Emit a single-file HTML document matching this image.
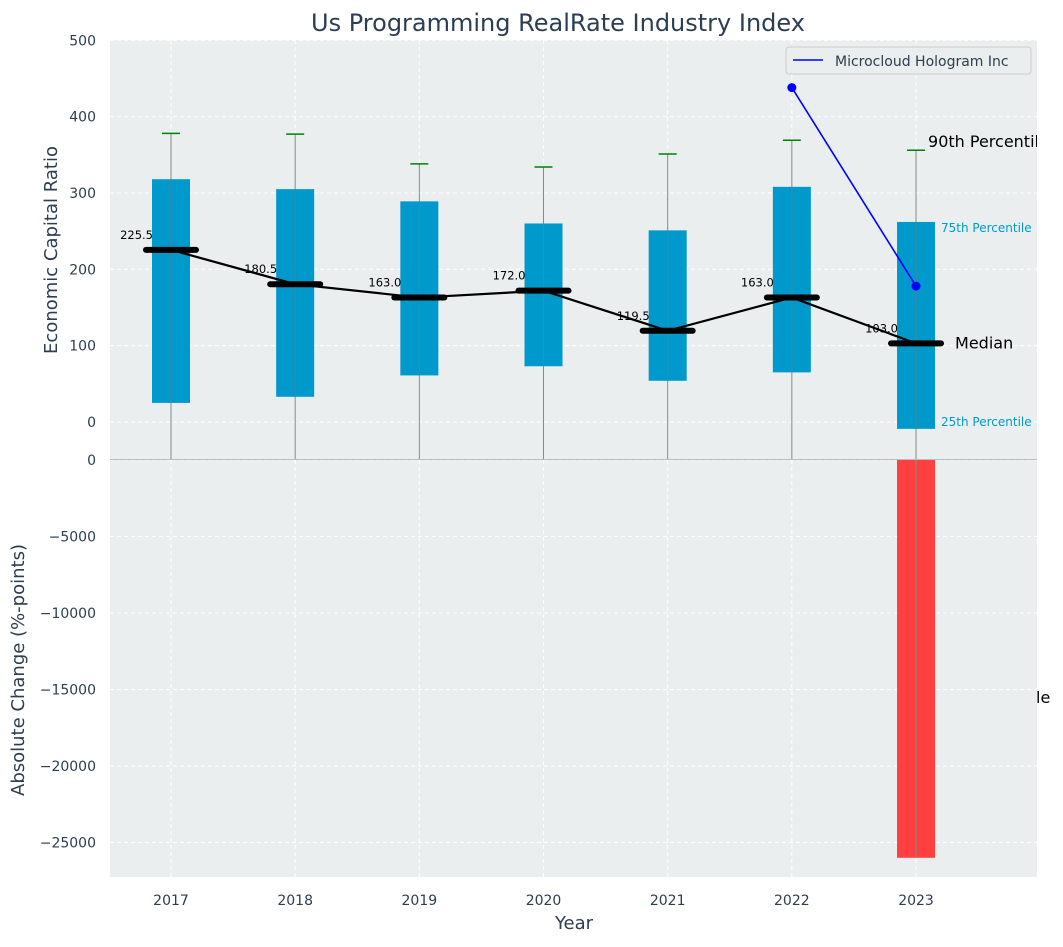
<!DOCTYPE html>
<html><head><meta charset="utf-8"><style>
body{margin:0;background:#fff;font-family:"Liberation Sans","DejaVu Sans",sans-serif}
svg text{font-family:"DejaVu Sans","Liberation Sans",sans-serif}
</style></head><body>
<svg id="c" width="1063" height="942" xmlns="http://www.w3.org/2000/svg"></svg>
<script>
const years=[2017,2018,2019,2020,2021,2022,2023];
const q25=[25,33,61,73,54,65,-9];
const q75=[318,305,289,260,251,308,262];
const medians=[225.5,180.5,163.0,172.0,119.5,163.0,103.0];
const p90=[378,377,338,334,351,369,356];
const companyYears=[2022,2023];
const companyVals=[438,178];
const changeVals=[0,0,0,0,0,0,-26000];
const topTicks=[0,100,200,300,400,500];
const botTicks=[0,-5000,-10000,-15000,-20000,-25000];

const NS="http://www.w3.org/2000/svg";
const svg=document.getElementById('c');
function el(t,a,p){const e=document.createElementNS(NS,t);for(const k in a)e.setAttribute(k,a[k]);(p||svg).appendChild(e);return e;}
const L=110,R=1037,T1=40,B1=459,T2=460,B2=877;
const x=y=>171+(y-2017)*124.17;
const y1=v=>422-v*0.7635;
const y2=v=>460+(-v)*0.01530;

let r=el('rect',{x:L,y:T1,width:R-L,height:B1-T1,fill:'#eaeeef'});

r=el('rect',{x:L,y:T2,width:R-L,height:B2-T2,fill:'#eaeeef'});


years.forEach(yr=>{
  el('line',{x1:x(yr),x2:x(yr),y1:T1,y2:B2,stroke:'#fff','stroke-dasharray':'4,3','stroke-width':1});
  const t=el('text',{x:x(yr),y:905,'text-anchor':'middle','font-size':14,fill:'#2c3e50'});t.textContent=yr;
  
});
topTicks.forEach(v=>{
  el('line',{x1:L,x2:R,y1:y1(v),y2:y1(v),stroke:'#fff','stroke-dasharray':'4,3'});
  const t=el('text',{x:96,y:y1(v)+5,'text-anchor':'end','font-size':14,fill:'#2c3e50'});t.textContent=v;
  
});
botTicks.forEach(v=>{
  el('line',{x1:L,x2:R,y1:y2(v),y2:y2(v),stroke:'#fff','stroke-dasharray':'4,3'});
  const t=el('text',{x:96,y:y2(v)+5,'text-anchor':'end','font-size':14,fill:'#2c3e50'});t.textContent=v===0?'0':'\u2212'+Math.abs(v);
  
});
el('line',{x1:L,x2:R,y1:459.5,y2:459.5,stroke:'#bbb','stroke-width':1});

years.forEach((yr,i)=>{
  const cx=x(yr);
  const w=el('line',{x1:cx,x2:cx,y1:y1(p90[i]),y2:B1,stroke:'#888','stroke-width':1});
  
  const cap=el('line',{x1:cx-9,x2:cx+9,y1:y1(p90[i]),y2:y1(p90[i]),stroke:'green','stroke-width':1.5});
  
  const b=el('rect',{x:cx-19,y:y1(q75[i]),width:38,height:y1(q25[i])-y1(q75[i]),fill:'#0099cc'});
  
  el('line',{x1:cx,x2:cx,y1:y1(q75[i]),y2:y1(q25[i]),stroke:'#5a7f8f','stroke-width':1});
  const cb=el('rect',{x:cx-19,y:y2(0),width:38,height:Math.max(0,y2(changeVals[i])-y2(0)),fill:'#ff4040'});
  
});
el('line',{x1:x(2023),x2:x(2023),y1:T2,y2:y2(changeVals[6]),stroke:'#888','stroke-width':1});
const mp=el('polyline',{points:years.map((yr,i)=>x(yr)+','+y1(medians[i])).join(' '),fill:'none',stroke:'#000','stroke-width':2.2});

years.forEach((yr,i)=>{
  const m=el('line',{x1:x(yr)-25,x2:x(yr)+25,y1:y1(medians[i]),y2:y1(medians[i]),stroke:'#000','stroke-width':6,'stroke-linecap':'round'});
  
  const t=el('text',{x:x(yr)-18,y:y1(medians[i])-11,'text-anchor':'end','font-size':11.5,fill:'#000'});t.textContent=medians[i].toFixed(1);
  
});
const cl=el('polyline',{points:companyYears.map((yr,i)=>x(yr)+','+y1(companyVals[i])).join(' '),fill:'none',stroke:'blue','stroke-width':1.6});

companyYears.forEach((yr,i)=>{const c=el('circle',{cx:x(yr),cy:y1(companyVals[i]),r:4.5,fill:'blue'});
});

function txt(s,a,name){const t=el('text',a);t.textContent=s;return t;}
const last=6,lx=x(2023);
txt('90th Percentile',{x:lx+12,y:y1(p90[last])-3,'font-size':16,fill:'#000'},'p90-annotation');
txt('75th Percentile',{x:lx+25,y:y1(q75[last])+10,'font-size':12,fill:'#0099cc'},'p75-annotation');
txt('Median',{x:lx+39,y:y1(medians[last])+5,'font-size':16,fill:'#000'},'median-annotation');
txt('25th Percentile',{x:lx+25,y:y1(q25[last])-3,'font-size':12,fill:'#0099cc'},'p25-annotation');
el('rect',{x:1037,y:0,width:26,height:942,fill:'#fff'});
txt('le',{x:1036,y:703,'font-size':16,fill:'#000'},'clipped-annotation-text');

txt('Us Programming RealRate Industry Index',{x:558,y:31,'text-anchor':'middle','font-size':24,fill:'#2c3e50'},'chart-title');
txt('Year',{x:574,y:929,'text-anchor':'middle','font-size':18,fill:'#2c3e50'},'x-axis-title');
txt('Economic Capital Ratio',{x:57,y:250,'text-anchor':'middle','font-size':18,fill:'#2c3e50',transform:'rotate(-90 57 250)'},'top-y-axis-title');
txt('Absolute Change (%-points)',{x:24,y:670,'text-anchor':'middle','font-size':18,fill:'#2c3e50',transform:'rotate(-90 24 670)'},'bottom-y-axis-title');

const lg=el('g',{});
el('rect',{x:786,y:47,width:245,height:27,rx:3,fill:'#eaeeef',stroke:'#ccc'},lg);
el('line',{x1:793,x2:823,y1:60,y2:60,stroke:'blue','stroke-width':1.6},lg);
const lt=el('text',{x:835,y:66,'font-size':14,fill:'#2c3e50'},lg);lt.textContent='Microcloud Hologram Inc';

</script>
</body></html>
